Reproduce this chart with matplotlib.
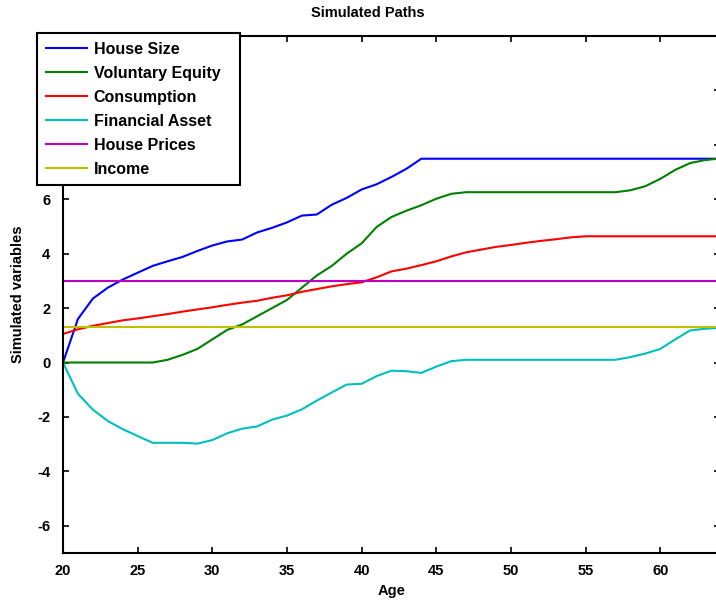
import numpy as np
import matplotlib
matplotlib.use('Agg')
import matplotlib.pyplot as plt

plt.rcParams['font.family'] = ['Liberation Sans', 'DejaVu Sans']
plt.rcParams['font.weight'] = 'bold'
plt.rcParams['axes.unicode_minus'] = False

# Ages on the x axis
age = list(range(20, 65))

# Simulated paths
house_size = [0, 1.6, 2.35, 2.75, 3.05, 3.3, 3.55, 3.72, 3.88, 4.1,
              4.3, 4.45, 4.52, 4.78, 4.95, 5.15, 5.4, 5.44, 5.8, 6.05,
              6.36, 6.55, 6.82, 7.12, 7.49, 7.49, 7.49, 7.49, 7.49, 7.49,
              7.49, 7.49, 7.49, 7.49, 7.49, 7.49, 7.49, 7.49, 7.49, 7.49,
              7.49, 7.49, 7.49, 7.49, 7.49]
voluntary_equity = [0, 0, 0, 0, 0, 0, 0, 0.1, 0.28, 0.5,
                    0.85, 1.2, 1.4, 1.7, 2.0, 2.3, 2.75, 3.2, 3.55, 4.0,
                    4.38, 4.98, 5.35, 5.58, 5.78, 6.02, 6.2, 6.26, 6.26, 6.26,
                    6.26, 6.26, 6.26, 6.26, 6.26, 6.26, 6.26, 6.26, 6.33, 6.48,
                    6.75, 7.08, 7.33, 7.44, 7.5]
consumption = [1.05, 1.22, 1.35, 1.45, 1.55, 1.62, 1.7, 1.78, 1.87, 1.95,
               2.03, 2.12, 2.2, 2.27, 2.38, 2.47, 2.6, 2.7, 2.8, 2.88,
               2.95, 3.13, 3.35, 3.45, 3.58, 3.72, 3.9, 4.05, 4.15, 4.25,
               4.32, 4.4, 4.47, 4.53, 4.6, 4.64, 4.64, 4.64, 4.64, 4.64,
               4.64, 4.64, 4.64, 4.64, 4.64]
financial_asset = [0, -1.15, -1.73, -2.15, -2.45, -2.7, -2.95, -2.95, -2.95, -2.98,
                   -2.85, -2.6, -2.43, -2.35, -2.1, -1.95, -1.72, -1.4, -1.1, -0.81,
                   -0.78, -0.5, -0.3, -0.32, -0.38, -0.15, 0.05, 0.1, 0.1, 0.1,
                   0.1, 0.1, 0.1, 0.1, 0.1, 0.1, 0.1, 0.1, 0.2, 0.33,
                   0.5, 0.85, 1.18, 1.24, 1.28]
house_prices = [3.0] * len(age)
income = [1.32] * len(age)

labels = ['House Size', 'Voluntary Equity', 'Consumption',
          'Financial Asset', 'House Prices', 'Income']
colors = ['#0000ff', '#008000', '#ff0000', '#00bfbf', '#bf00bf', '#bfbf00']
series = [house_size, voluntary_equity, consumption,
          financial_asset, house_prices, income]

fig = plt.figure(figsize=(7.16, 6.07), dpi=100)
ax = fig.add_axes([63 / 716, 54 / 607, 657 / 716, 517 / 607])

for vals, lab, col in zip(series, labels, colors):
    ax.plot(age, vals, color=col, lw=1.5, label=lab)

ax.set_xlim(20, 64)
ax.set_ylim(-7, 12)
ax.set_xticks(range(20, 65, 5))
ax.set_yticks(range(-6, 13, 2))
ax.tick_params(direction='in', top=True, right=True, length=4, width=1.2,
               labelsize=10.5)
ax.tick_params(axis='y', pad=9)
ax.tick_params(axis='x', pad=8)
for s in ax.spines.values():
    s.set_linewidth(1.5)

# title sits a bit left of the axes centre in the original
fig.text(368 / 716, 1 - 13 / 607, 'Simulated Paths', ha='center', va='center',
         fontsize=10.5, fontweight='bold')
ax.set_xlabel('Age', fontsize=10.5, fontweight='bold', labelpad=4)
ax.set_ylabel('Simulated variables', fontsize=10.5, fontweight='bold', labelpad=7)

# legend box: 37..240 px wide, top at 33 px
leg = ax.legend(loc='upper left',
                bbox_to_anchor=(37 / 716, 1 - 183 / 607, 203 / 716, 150 / 607),
                bbox_transform=fig.transFigure, borderaxespad=0, mode='expand',
                fancybox=False, framealpha=1, edgecolor='black',
                fontsize=11.5, handlelength=2.6, labelspacing=0.56,
                borderpad=0.55, handletextpad=0.4)
leg.get_frame().set_linewidth(1.5)
leg.set_zorder(10)

fig.savefig('out.png', dpi=100)
